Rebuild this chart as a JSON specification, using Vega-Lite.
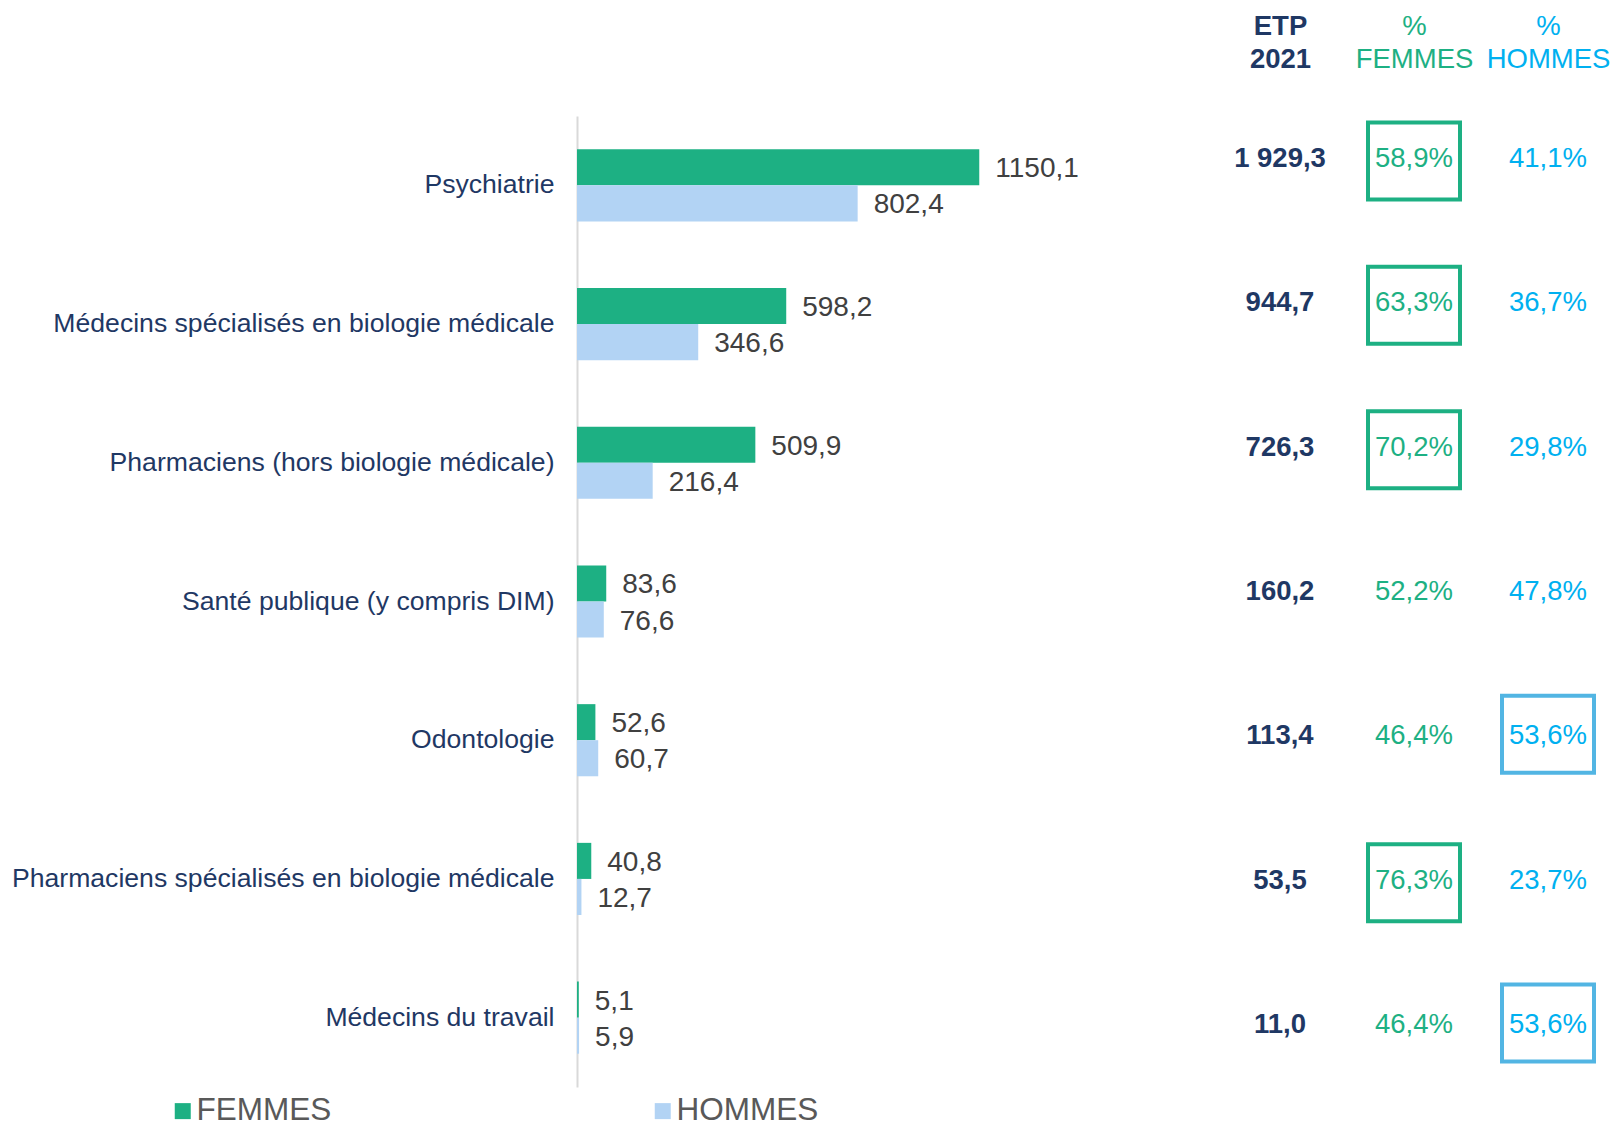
{
  "$schema": "https://vega.github.io/schema/vega-lite/v6.json",
  "width": 1036,
  "height": 1130,
  "autosize": {"type": "none"},
  "padding": {"left": 577, "top": 0, "right": 0, "bottom": 0},
  "background": "white",
  "data": {
    "values": [
      {"cat": "Psychiatrie", "FEMMES": 1150.1, "HOMMES": 802.4, "etp": 1929.3, "pctF": 0.589, "pctH": 0.411},
      {"cat": "Médecins spécialisés en biologie médicale", "FEMMES": 598.2, "HOMMES": 346.6, "etp": 944.7, "pctF": 0.633, "pctH": 0.367},
      {"cat": "Pharmaciens (hors biologie médicale)", "FEMMES": 509.9, "HOMMES": 216.4, "etp": 726.3, "pctF": 0.702, "pctH": 0.298},
      {"cat": "Santé publique (y compris DIM)", "FEMMES": 83.6, "HOMMES": 76.6, "etp": 160.2, "pctF": 0.522, "pctH": 0.478},
      {"cat": "Odontologie\u00a0", "FEMMES": 52.6, "HOMMES": 60.7, "etp": 113.4, "pctF": 0.464, "pctH": 0.536},
      {"cat": "Pharmaciens spécialisés en biologie médicale", "FEMMES": 40.8, "HOMMES": 12.7, "etp": 53.5, "pctF": 0.763, "pctH": 0.237},
      {"cat": "Médecins du travail", "FEMMES": 5.1, "HOMMES": 5.9, "etp": 11.0, "pctF": 0.464, "pctH": 0.536}
    ]
  },
  "layer": [
    {
      "transform": [{"fold": ["FEMMES", "HOMMES"], "as": ["sexe", "valeur"]}],
      "encoding": {
        "y": {
          "field": "cat", "type": "nominal", "sort": null,
          "scale": {"range": [116, 1087], "paddingInner": 0.48, "paddingOuter": 0.24},
          "axis": {
            "title": null, "orient": "left", "ticks": false, "grid": false,
            "domain": true, "domainColor": "#d9d9d9", "domainWidth": 2,
            "labelPadding": 23, "labelFontSize": 26.6, "labelColor": "#1F3864",
            "labelFont": "Liberation Sans", "labelLimit": 1000, "labelOverlap": false
          }
        },
        "yOffset": {
          "field": "sexe", "type": "nominal", "sort": ["FEMMES", "HOMMES"],
          "scale": {"paddingInner": 0, "paddingOuter": 0}
        },
        "x": {
          "field": "valeur", "type": "quantitative",
          "scale": {"domain": [0, 2962], "nice": false, "zero": true},
          "axis": null
        }
      },
      "layer": [
        {
          "mark": {"type": "bar"},
          "encoding": {
            "color": {
              "field": "sexe", "type": "nominal",
              "scale": {"domain": ["FEMMES", "HOMMES"], "range": ["#1DB083", "#B2D3F4"]},
              "legend": {
                "title": null, "orient": "none", "direction": "horizontal",
                "legendX": -410, "legendY": 1095,
                "symbolType": "square", "symbolSize": 256, "symbolStrokeWidth": 0,
                "labelFontSize": 31.5, "labelColor": "#595959", "labelFont": "Liberation Sans",
                "labelOffset": -2, "columnPadding": 315, "padding": 0
              }
            }
          }
        },
        {
          "mark": {"type": "text", "align": "left", "baseline": "middle", "dx": 16, "dy": 2, "fontSize": 28, "color": "#404040", "font": "Liberation Sans"},
          "encoding": {"text": {"field": "valeur", "type": "quantitative", "format": ".1f"}}
        }
      ]
    },
    {
      "encoding": {
        "y": {
          "field": "cat", "type": "nominal", "sort": null,
          "scale": {"type": "point", "range": [159, 1025], "padding": 0},
          "axis": null
        }
      },
      "layer": [
        {
          "mark": {"type": "text", "align": "center", "baseline": "middle", "fontSize": 27.5, "fontWeight": "bold", "color": "#1F3864", "font": "Liberation Sans"},
          "encoding": {
            "x": {
              "datum": "ETP", "type": "nominal",
              "scale": {"type": "point", "domain": ["ETP", "F", "H"], "range": [703, 971], "padding": 0},
              "axis": {
                "orient": "top", "title": null, "offset": -26, "domain": false, "ticks": false, "tickSize": 0, "grid": false,
                "labelPadding": 0, "labelBaseline": "middle", "labelAlign": "center", "labelAngle": 0,
                "labelFontSize": 27.5, "labelLineHeight": 33, "labelFont": "Liberation Sans", "labelOverlap": false, "labelBound": false,
                "labelExpr": "datum.value == 'ETP' ? ['ETP', '2021'] : (datum.value == 'F' ? ['%', 'FEMMES'] : ['%', 'HOMMES'])",
                "labelColor": {"condition": [{"test": "datum.value == 'ETP'", "value": "#1F3864"}, {"test": "datum.value == 'F'", "value": "#1DB083"}], "value": "#00B0F0"},
                "labelFontWeight": {"condition": {"test": "datum.value == 'ETP'", "value": "bold"}, "value": "normal"}
              }
            },
            "text": {"field": "etp", "type": "quantitative", "format": ",.1f"}
          }
        },
        {
          "mark": {"type": "text", "align": "center", "baseline": "middle", "fontSize": 27.5, "color": "#1DB083", "font": "Liberation Sans"},
          "encoding": {
            "x": {"datum": "F", "type": "nominal"},
            "text": {"field": "pctF", "type": "quantitative", "format": ".1%"}
          }
        },
        {
          "mark": {"type": "text", "align": "center", "baseline": "middle", "fontSize": 27.5, "color": "#00B0F0", "font": "Liberation Sans"},
          "encoding": {
            "x": {"datum": "H", "type": "nominal"},
            "text": {"field": "pctH", "type": "quantitative", "format": ".1%"}
          }
        },
        {
          "transform": [{"filter": "datum.pctF >= 0.55"}],
          "mark": {"type": "point", "shape": "M-1,-0.837H1V0.837H-1Z", "size": 8464, "filled": false, "stroke": "#1DB083", "strokeWidth": 4, "opacity": 1, "yOffset": 2},
          "encoding": {"x": {"datum": "F", "type": "nominal"}}
        },
        {
          "transform": [{"filter": "datum.pctH > 0.5"}],
          "mark": {"type": "point", "shape": "M-1,-0.837H1V0.837H-1Z", "size": 8464, "filled": false, "stroke": "#52B5E3", "strokeWidth": 4, "opacity": 1, "yOffset": -2},
          "encoding": {"x": {"datum": "H", "type": "nominal"}}
        }
      ]
    }
  ],
  "resolve": {"scale": {"x": "independent", "y": "independent"}, "axis": {"x": "independent", "y": "independent"}},
  "config": {
    "view": {"stroke": null},
    "font": "Liberation Sans",
    "locale": {
      "number": {"decimal": ",", "thousands": " ", "grouping": [3], "currency": ["", " €"], "percent": "%"}
    }
  }
}
